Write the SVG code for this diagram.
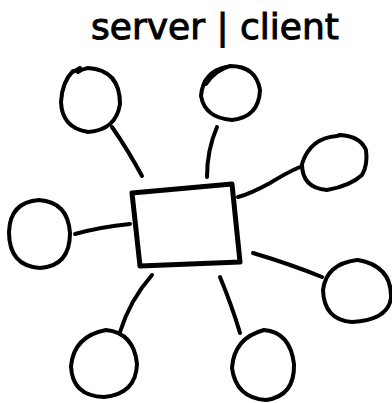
<svg xmlns="http://www.w3.org/2000/svg" width="392" height="403" viewBox="0 0 392 403">
  <style>
    .ink { fill: none; stroke: #000; stroke-width: 4; stroke-linecap: round; stroke-linejoin: round; }
    .thick { stroke-width: 5; }
    .title { font-family: "DejaVu Sans", "Liberation Sans", sans-serif; font-size: 36px; fill: #000; stroke: #000; stroke-width: 1; }
  </style>
  <rect width="392" height="403" fill="#fff"/>

  <text class="title" x="91" y="39">server | client</text>

  <!-- links from the server box to each client -->
  <g id="connectors" class="ink">
    <path d="M112 127 Q128 150 142 176"/>
    <path d="M75 234 Q100 227 130 224"/>
    <path d="M217 127 Q207 150 207 177"/>
    <path d="M238 197 Q250 194 270 183 Q288 172 300 167"/>
    <path d="M253 253 Q290 264 322 277"/>
    <path d="M152 275 Q130 300 120 332"/>
    <path d="M220 277 Q232 306 240 333"/>
  </g>

  <!-- server -->
  <g id="server" class="ink">
    <path class="thick" d="M132 193 L232 184 L240 262 L140 266 Z"/>
  </g>

  <!-- clients -->
  <g id="client-top-left" class="ink">
    <path d="M80 68 Q70 74 73 71 Q62 82 61 102 Q62 128 88 132 Q116 130 120 104 Q120 70 88 68 Q82 69 78 72"/>
  </g>
  <g id="client-left" class="ink">
    <path d="M39 200 Q10 202 9 232 Q9 266 40 268 Q70 266 70 233 Q68 202 39 200 Z"/>
  </g>
  <g id="client-top" class="ink">
    <path d="M226 67 Q203 72 201 96 Q205 118 232 120 Q259 117 260 90 Q256 66 230 66 Q215 70 206 84"/>
  </g>
  <g id="client-right" class="ink">
    <path d="M337 136 Q310 138 302 164 Q302 188 327 190 Q350 186 362 175 Q368 165 366 150 Q360 136 340 135 Z"/>
  </g>
  <g id="client-bottom-right" class="ink">
    <path d="M357 260 Q326 264 323 290 Q324 320 352 322 Q388 320 391 298 Q392 266 358 260 Z"/>
  </g>
  <g id="client-bottom-left" class="ink">
    <path d="M106 330 Q74 336 71 366 Q72 396 104 397 Q136 394 137 364 Q134 333 106 330 Z"/>
  </g>
  <g id="client-bottom" class="ink">
    <path d="M264 330 Q234 338 232 368 Q236 398 266 400 Q295 396 294 364 Q290 332 264 330 Z"/>
  </g>
</svg>
